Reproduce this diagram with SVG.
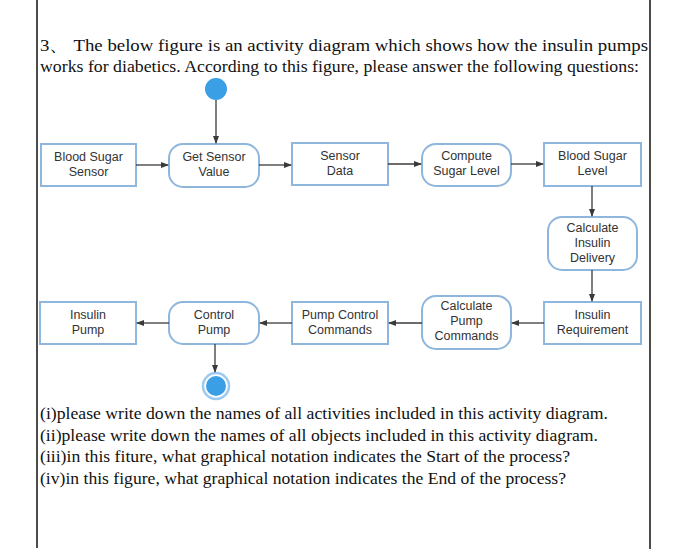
<svg xmlns="http://www.w3.org/2000/svg" width="700" height="549" viewBox="0 0 700 549">
<defs>
<marker id="ah" markerWidth="8" markerHeight="6" refX="7" refY="3" orient="auto" markerUnits="userSpaceOnUse">
<path d="M0,0 L8,3 L0,6 z" fill="#3a3a3a"/>
</marker>
</defs>
<style>
.q{font-family:"Liberation Serif","Times New Roman",serif;font-size:17.5px;fill:#111}
.obj{fill:#fff;stroke:#8fb6dc;stroke-width:2}
.act{fill:#fff;stroke:#8fb6dc;stroke-width:2}
.t{font-family:"Liberation Sans",Arial,sans-serif;font-size:12.5px;fill:#333;text-anchor:middle}
.c{stroke:#3a3a3a;stroke-width:1.3;fill:none;marker-end:url(#ah)}
.frame{stroke:#111;stroke-width:1.5}
</style>
<rect width="700" height="549" fill="#fff"/>
<line class="frame" x1="37" y1="0" x2="37" y2="548"/>
<line class="frame" x1="650" y1="0" x2="650" y2="549"/>
<text class="q" x="40" y="51" textLength="608" lengthAdjust="spacingAndGlyphs">3、 The below figure is an activity diagram which shows how the insulin pumps</text>
<text class="q" x="40" y="72" textLength="599" lengthAdjust="spacingAndGlyphs">works for diabetics. According to this figure, please answer the following questions:</text>

<g id="start"><circle cx="216" cy="89" r="11" fill="#3b9fe6"/></g>
<g id="end"><circle cx="216" cy="386" r="13" fill="#fff" stroke="#9ccaf0" stroke-width="2.5"/><circle cx="216" cy="386" r="10" fill="#3b9fe6"/></g>

<g id="n1"><rect class="obj" x="41" y="144" width="95" height="42"/><text class="t" x="88.5" y="161">Blood Sugar</text><text class="t" x="88.5" y="176">Sensor</text></g>
<g id="n2"><rect class="act" x="169" y="144" width="90" height="43" rx="14"/><text class="t" x="214" y="161">Get Sensor</text><text class="t" x="214" y="176">Value</text></g>
<g id="n3"><rect class="obj" x="292" y="143" width="96" height="42"/><text class="t" x="340" y="160">Sensor</text><text class="t" x="340" y="175">Data</text></g>
<g id="n4"><rect class="act" x="422" y="144" width="89" height="42" rx="14"/><text class="t" x="466.5" y="160">Compute</text><text class="t" x="466.5" y="175">Sugar Level</text></g>
<g id="n5"><rect class="obj" x="544" y="143" width="97" height="43"/><text class="t" x="592.5" y="160">Blood Sugar</text><text class="t" x="592.5" y="175">Level</text></g>
<g id="n6"><rect class="act" x="548" y="217" width="89" height="53" rx="14"/><text class="t" x="592.5" y="232">Calculate</text><text class="t" x="592.5" y="247">Insulin</text><text class="t" x="592.5" y="262">Delivery</text></g>
<g id="n7"><rect class="obj" x="544" y="302" width="97" height="42"/><text class="t" x="592.5" y="319">Insulin</text><text class="t" x="592.5" y="334">Requirement</text></g>
<g id="n8"><rect class="act" x="422" y="296" width="89" height="53" rx="14"/><text class="t" x="466.5" y="310">Calculate</text><text class="t" x="466.5" y="325">Pump</text><text class="t" x="466.5" y="340">Commands</text></g>
<g id="n9"><rect class="obj" x="292" y="302" width="96" height="42"/><text class="t" x="340" y="319">Pump Control</text><text class="t" x="340" y="334">Commands</text></g>
<g id="n10"><rect class="act" x="169" y="302" width="90" height="42" rx="14"/><text class="t" x="214" y="319">Control</text><text class="t" x="214" y="334">Pump</text></g>
<g id="n11"><rect class="obj" x="40" y="302" width="96" height="42"/><text class="t" x="88" y="319">Insulin</text><text class="t" x="88" y="334">Pump</text></g>

<g id="connectors">
<line class="c" x1="216" y1="100" x2="216" y2="143"/>
<line class="c" x1="136" y1="165" x2="168" y2="165"/>
<line class="c" x1="259" y1="165" x2="291" y2="165"/>
<line class="c" x1="388" y1="164" x2="421" y2="164"/>
<line class="c" x1="511" y1="164" x2="543" y2="164"/>
<line class="c" x1="592" y1="186" x2="592" y2="216"/>
<line class="c" x1="592" y1="270" x2="592" y2="301"/>
<line class="c" x1="544" y1="323" x2="512" y2="323"/>
<line class="c" x1="422" y1="323" x2="389" y2="323"/>
<line class="c" x1="292" y1="323" x2="260" y2="323"/>
<line class="c" x1="169" y1="323" x2="137" y2="323"/>
<line class="c" x1="215" y1="344" x2="215" y2="372"/>
</g>

<text class="q" x="40" y="419" textLength="568" lengthAdjust="spacingAndGlyphs">(i)please write down the names of all activities included in this activity diagram.</text>
<text class="q" x="40" y="441" textLength="558" lengthAdjust="spacingAndGlyphs">(ii)please write down the names of all objects included in this activity diagram.</text>
<text class="q" x="40" y="462" textLength="530" lengthAdjust="spacingAndGlyphs">(iii)in this fiture, what graphical notation indicates the Start of the process?</text>
<text class="q" x="40" y="484" textLength="526" lengthAdjust="spacingAndGlyphs">(iv)in this figure, what graphical notation indicates the End of the process?</text>
</svg>
